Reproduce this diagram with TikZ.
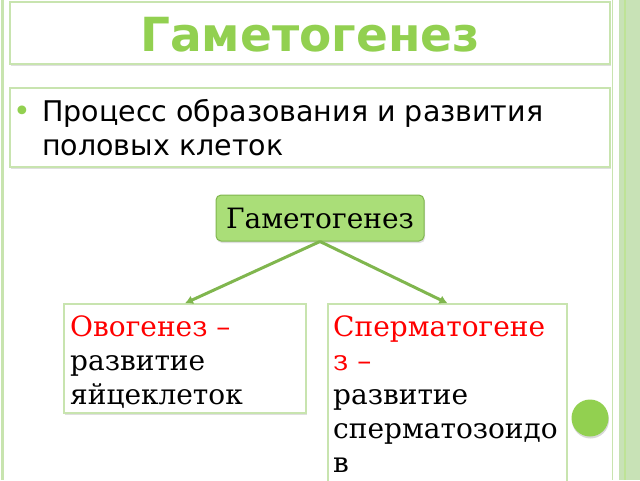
\documentclass[tikz,border=0pt]{standalone}
\usepackage{fontspec}
\setmainfont{DejaVu Serif}
\newfontfamily\headfont{DejaVu Sans}
\usetikzlibrary{positioning}
\usetikzlibrary{shadows}
\usetikzlibrary{arrows.meta}

\definecolor{gtitle}{RGB}{146,208,80}
\definecolor{gline}{RGB}{200,228,175}
\definecolor{garrow}{RGB}{128,182,78}
\definecolor{gfill}{RGB}{170,222,120}
\definecolor{gband}{RGB}{200,226,182}

\tikzset{
  panel/.style={draw=gline, line width=1.5pt, fill=white,
    drop shadow={shadow xshift=1pt, shadow yshift=-2pt, fill=black!25}},
  boxtext/.style={anchor=north west, align=left, inner sep=0pt,
    font=\fontsize{28}{34}\selectfont},
  link/.style={draw=garrow, line width=3pt, -{Latex[length=8pt,width=9pt]}},
}

\begin{document}
\begin{tikzpicture}[x=1pt,y=-1pt]
      \useasboundingbox (0,0) rectangle (640,480);
      \clip (0,0) rectangle (640,480);
      % frame of the slide
      \fill[gline] (1,0) rectangle (4,480);
      \fill[gband] (619,0) rectangle (640,480);
      \draw[gtitle!60, line width=1.5pt] (625,0) -- (625,480);
      \draw[gline, line width=1pt] (612,0) -- (612,480);

      \node[panel, minimum width=600pt, minimum height=62pt] (title) at (310,33) {};
      \node[font=\headfont\bfseries\fontsize{47}{50}\selectfont, text=gtitle] (titletext) at (310,35) {Гаметогенез};

      \node[panel, minimum width=600pt, minimum height=79pt] (def) at (310,127.5) {};
      \node[text=gtitle, font=\fontsize{30}{30}\selectfont, inner sep=0pt] (dot) at (22,114) {\headfont•};
      \node[boxtext, font=\headfont\fontsize{28.5}{34}\selectfont] (deftext) at (42,99)
            {Процесс образования и развития\\половых клеток};

      \node[draw=garrow, line width=1pt, rounded corners=5pt, fill=gfill,
            drop shadow={shadow xshift=1pt, shadow yshift=-2pt, fill=black!25},
            minimum width=208pt, minimum height=46pt,
            font=\fontsize{28}{34}\selectfont] (gam) at (320,218) {Гаметогенез};

      \node[panel, minimum width=242pt, minimum height=109pt] (ovo) at (185,358.5) {};
      \node[boxtext] (ovotext) at (70,316)
            {\textcolor{red}{Овогенез –}\\развитие\\яйцеклеток};

      \node[panel, minimum width=239pt, minimum height=200pt] (sper) at (447.5,404) {};
      \node[boxtext] (spertext) at (333,316)
            {\textcolor{red}{Сперматогене}\\\textcolor{red}{з –}\\развитие\\сперматозоидо\\в};

      \draw[link] (gam.south) -- (ovo.north);
      \draw[link] (gam.south) -- (sper.north);

      \node[circle, fill=gtitle, minimum size=37pt,
            drop shadow={shadow xshift=0.5pt, shadow yshift=-2pt, fill=black!30}] (ball) at (590,418) {};
\end{tikzpicture}
\end{document}
